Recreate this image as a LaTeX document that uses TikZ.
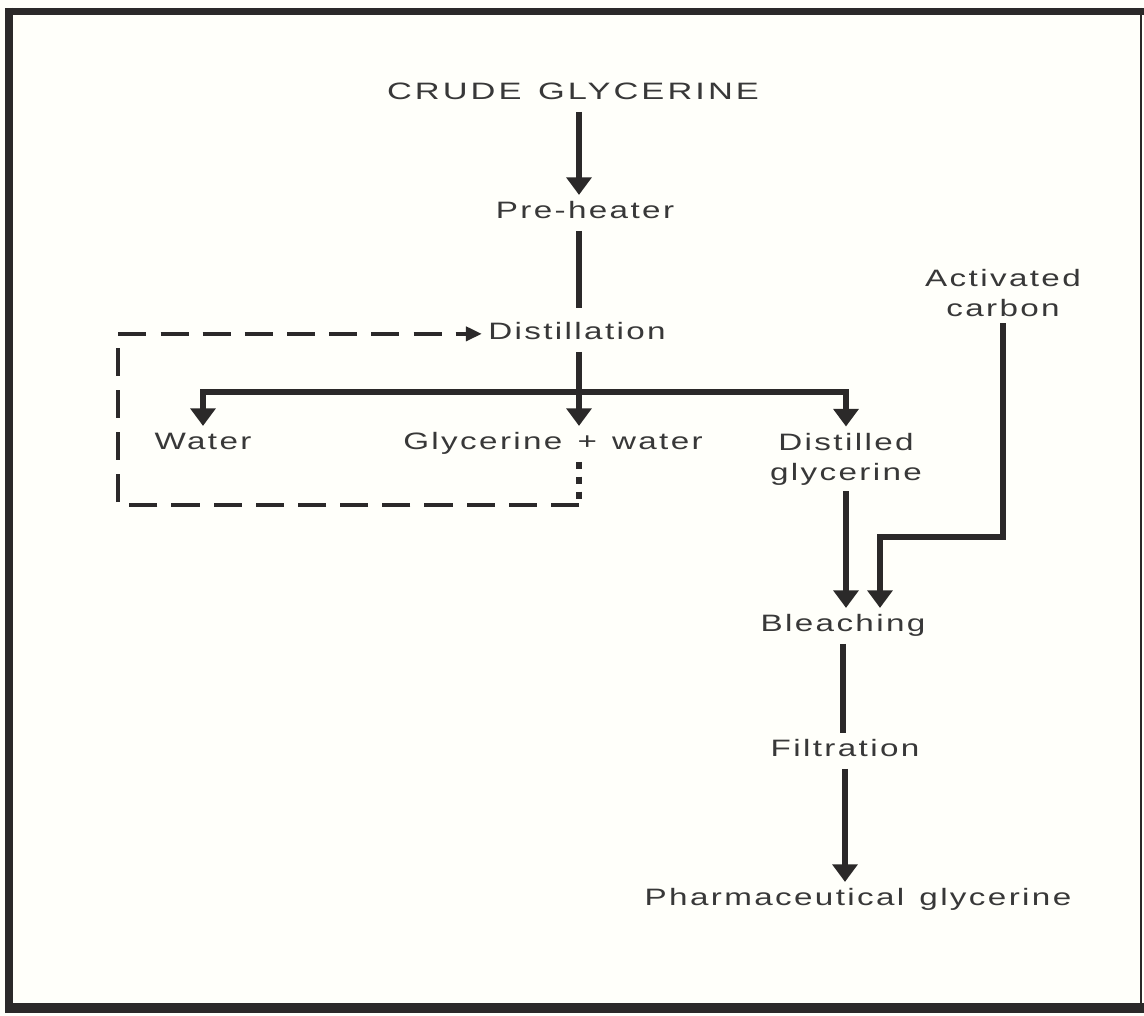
\documentclass[tikz,border=0pt]{standalone}
\usepackage{fontspec}
\setmainfont{Liberation Sans}[FakeStretch=1.4,LetterSpace=10,WordSpace=1.3]
\newfontfamily\capsfont{Liberation Sans}[FakeStretch=1.45,LetterSpace=13,WordSpace=1.3]
\usetikzlibrary{positioning,calc,arrows.meta}
\definecolor{inkgray}{rgb}{0.17,0.16,0.16}
\definecolor{textgray}{rgb}{0.22,0.22,0.22}
\definecolor{paper}{rgb}{1.0,1.0,0.98}

\tikzset{
	stage/.style={inner sep=3.5pt, text height=10pt, text depth=3pt, font=\fontsize{13.5}{17}\selectfont, text=textgray},
	feed/.style={inner sep=3.5pt, align=center, font=\fontsize{13.5}{17}\selectfont, text=textgray},
	flow/.style={inkgray, line width=3pt, -{Triangle[width=14pt,length=10pt]}},
	link/.style={inkgray, line width=3pt},
	recycle/.style={inkgray, line width=2pt, dash pattern=on 16pt off 8pt},
	drip/.style={inkgray, line width=3.6pt, dash pattern=on 4pt off 4.5pt}
}

\begin{document}
\begin{tikzpicture}[x=0.02cm,y=-0.02cm]
	\fill[paper] (0,0) rectangle (1144,1016);
	\useasboundingbox (0,0) rectangle (1144,1016);
	
	% frame
	\draw[inkgray,line width=4.5pt] (9,8) -- (9,1012);
	\draw[inkgray,line width=4pt] (5,11.5) -- (1144,11.5);
	\draw[inkgray,line width=5.5pt] (5,1008) -- (1144,1008);
	\draw[inkgray,line width=1.2pt] (1141,8) -- (1141,1012);
	
	\node[stage,anchor=base,font=\fontsize{13.5}{17}\capsfont] (crude) at (573,100) {CRUDE GLYCERINE};
	\node[stage,anchor=base] (pre) at (585,219) {Pre-heater};
	\node[stage,anchor=base] (distil) at (577,340) {Distillation};
	\node[stage,anchor=base] (water) at (203,450) {Water};
	\node[stage,anchor=base] (mix) at (553,450) {Glycerine + water};
	\node[feed] (dist) at (846,459) {Distilled\\glycerine};
	\node[feed] (carbon) at (1003,293) {Activated\\carbon};
	\node[stage,anchor=base] (bleach) at (843,632) {Bleaching};
	\node[stage,anchor=base] (filt) at (845,757) {Filtration};
	\node[stage,anchor=base] (pharma) at (858,906) {Pharmaceutical glycerine};
	
	\coordinate (trunk) at (579,0);
	\coordinate (split) at (579,392);
	\coordinate (carbonbend) at (880,537);
	\coordinate (loopbottom) at (579,505);
	\coordinate (loopleft) at (118,505);
	
	\draw[flow] (crude.south -| trunk) -- (pre.north -| trunk);
	\draw[link,shorten >=4.5pt] (pre.south -| trunk) -- (distil.north -| trunk);
	\draw[link] (distil.south -| trunk) -- (split);
	\draw[flow] (split) -| (water.north);
	\draw[flow] (split) -| (dist.north);
	\draw[flow] (split) -- (mix.north -| split);
	
	\draw[flow] (dist.south) -- (dist.south |- bleach.north);
	\draw[flow] (carbon.south) |- (carbonbend) -- (carbonbend |- bleach.north);
	\draw[link] (bleach.south) -- (bleach.south |- filt.north);
	\draw[flow] (filt.south) -- (filt.south |- pharma.north);
	
	% recycle of water
	\draw[drip] (mix.south -| trunk) -- (loopbottom);
	\draw[recycle,-{Triangle[width=8pt,length=9pt]}] (loopbottom) -- (loopleft) |- (distil.west);
\end{tikzpicture}
\end{document}
